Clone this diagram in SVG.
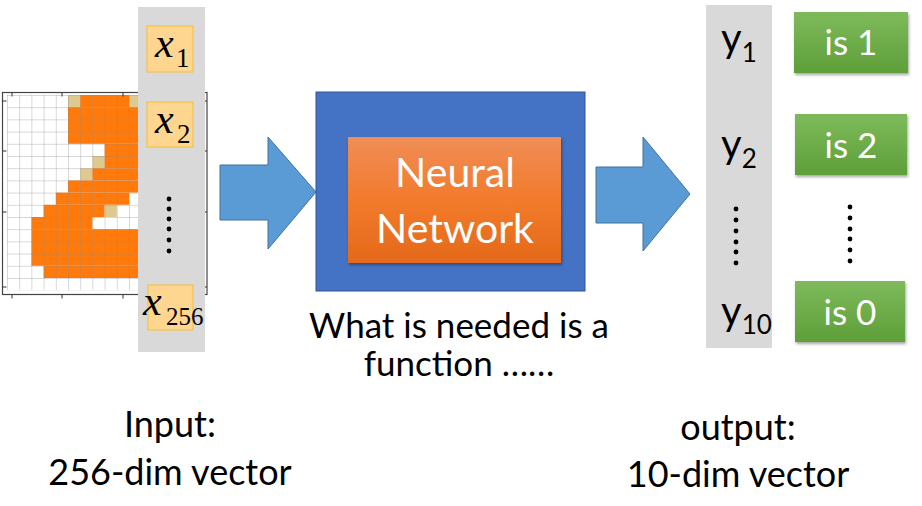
<svg xmlns="http://www.w3.org/2000/svg" width="922" height="506" viewBox="0 0 922 506">
<defs>
<style>
.txt{font-family:Lato,"Liberation Sans",sans-serif;fill:#000;}
.wt{font-family:Lato,"Liberation Sans",sans-serif;fill:#fff;}
.or{fill:#FF7A0A;}
.tan{fill:#DEC98E;}
.gl{stroke:#8a8a8a;stroke-width:0.8;stroke-opacity:0.8;}
.tick{stroke:#333;stroke-width:1;}
.xbox{fill:#FFD68F;stroke:#F5BE3A;stroke-width:1;}
.xv{font-family:"Liberation Serif",serif;font-style:italic;fill:#000;}
.sub{font-family:"Liberation Serif",serif;fill:#000;}
.dot{fill:#000;}
.green{fill:url(#gg);filter:url(#sh);}
.arrow{fill:#5B9BD5;stroke:#41719C;stroke-width:1;}
</style>
<linearGradient id="gg" x1="0" y1="0" x2="0" y2="1">
<stop offset="0" stop-color="#7EBA5B"/>
<stop offset="1" stop-color="#5E9F39"/>
</linearGradient>
<linearGradient id="og" x1="0" y1="0" x2="0" y2="1">
<stop offset="0" stop-color="#F08D57"/>
<stop offset="0.5" stop-color="#F27B2C"/>
<stop offset="1" stop-color="#E4691A"/>
</linearGradient>
<filter id="sh" x="-10%" y="-10%" width="120%" height="130%">
<feDropShadow dx="1" dy="2" stdDeviation="1.5" flood-color="#000" flood-opacity="0.35"/>
</filter>
<pattern id="grid" x="7" y="95" width="12.2" height="12.2" patternUnits="userSpaceOnUse">
<path d="M0 0H12.2M0 0V12.2" class="gl" fill="none"/>
</pattern>
</defs>
<rect width="922" height="506" fill="#fff"/>

<g id="input-image">
<rect x="7" y="95" width="200" height="195" fill="#fff"/>
<rect class="tan" x="68" y="95" width="12.2" height="12.2"/>
<rect class="or" x="80.2" y="95" width="48.8" height="12.2"/>
<rect class="tan" x="129" y="95" width="12.2" height="12.2"/>
<rect class="or" x="68" y="107.2" width="73.2" height="36.6"/>
<rect class="or" x="104.6" y="143.8" width="36.6" height="12.2"/>
<rect class="tan" x="92.4" y="156" width="12.2" height="12.2"/>
<rect class="or" x="104.6" y="156" width="36.6" height="12.2"/>
<rect class="tan" x="80.2" y="168.2" width="12.2" height="12.2"/>
<rect class="or" x="92.4" y="168.2" width="48.8" height="12.2"/>
<rect class="or" x="68" y="180.4" width="73.2" height="12.2"/>
<rect class="or" x="55.8" y="192.6" width="73.2" height="12.2"/>
<rect class="or" x="43.6" y="204.8" width="61" height="12.2"/>
<rect class="tan" x="104.6" y="204.8" width="12.2" height="12.2"/>
<rect class="or" x="31.4" y="217" width="61" height="12.2"/>
<rect class="or" x="31.4" y="229.2" width="109.8" height="36.6"/>
<rect class="or" x="43.6" y="265.8" width="97.6" height="12.2"/>
<rect x="7" y="95" width="195.2" height="195.2" fill="url(#grid)"/>
<rect x="2.5" y="92.5" width="204.5" height="202" fill="none" stroke="#444" stroke-width="1.2"/>
<path class="tick" d="M12 92.5v4M62 92.5v4M123 92.5v4M12 294.5v4M62 294.5v4M123 294.5v4M2.5 101h4M2.5 151h4M2.5 212h4M2.5 287h4M207 101h-4M207 151h-4M207 212h-4M207 287h-4"/>
</g>

<g id="input-vector">
<rect x="138" y="7" width="67" height="345" fill="#D9D9D9"/>
<g id="x1">
<rect class="xbox" x="147" y="26" width="46" height="46"/>
<text class="xv" x="155" y="57" font-size="42">x</text>
<text class="sub" x="176" y="67" font-size="27">1</text>
</g>
<g id="x2">
<rect class="xbox" x="147" y="102" width="46" height="45"/>
<text class="xv" x="155" y="133" font-size="42">x</text>
<text class="sub" x="177" y="143" font-size="27">2</text>
</g>
<g id="x-dots">
<circle class="dot" cx="169" cy="199" r="2.4"/>
<circle class="dot" cx="169" cy="209" r="2.4"/>
<circle class="dot" cx="169" cy="219" r="2.4"/>
<circle class="dot" cx="169" cy="229" r="2.4"/>
<circle class="dot" cx="169" cy="240" r="2.4"/>
<circle class="dot" cx="169" cy="251" r="2.4"/>
</g>
<g id="x256">
<rect class="xbox" x="148" y="285" width="45" height="45"/>
<text class="xv" x="143" y="315" font-size="42">x</text>
<text class="sub" x="166" y="325" font-size="25">256</text>
</g>
</g>

<g id="connectors">
<path id="arrow-in" class="arrow" d="M220 165H268V137L316 192L268 249V220H220Z"/>
<path id="arrow-out" class="arrow" d="M596 167H643V137L690 194L643 251V223H596Z"/>
</g>

<g id="neural-network">
<rect x="316" y="92" width="269" height="199" fill="#4472C4" stroke="#2F5597" stroke-width="1"/>
<rect x="348" y="137" width="213" height="126" fill="url(#og)" filter="url(#sh)"/>
<text class="wt" x="455" y="187" font-size="41" text-anchor="middle">Neural</text>
<text class="wt" x="455" y="243" font-size="41" text-anchor="middle">Network</text>
</g>

<g id="function-label">
<text class="txt" x="459" y="338" font-size="35" text-anchor="middle">What is needed is a</text>
<text class="txt" x="459" y="376" font-size="35" text-anchor="middle">function ……</text>
</g>

<g id="output-vector">
<rect x="706" y="5" width="66" height="343" fill="#D9D9D9"/>
<text class="txt" x="721" y="52" font-size="40">y<tspan font-size="26" dy="10">1</tspan></text>
<text class="txt" x="721" y="158" font-size="40">y<tspan font-size="26" dy="10">2</tspan></text>
<g id="y-dots">
<circle class="dot" cx="736" cy="209" r="2.4"/>
<circle class="dot" cx="736" cy="220" r="2.4"/>
<circle class="dot" cx="736" cy="231" r="2.4"/>
<circle class="dot" cx="736" cy="242" r="2.4"/>
<circle class="dot" cx="736" cy="252" r="2.4"/>
<circle class="dot" cx="736" cy="263" r="2.4"/>
</g>
<text class="txt" x="721" y="325" font-size="40">y<tspan font-size="26" dy="9">10</tspan></text>
</g>

<g id="class-is1">
<rect class="green" x="794" y="12" width="114" height="61"/>
<text class="wt" x="851" y="55" font-size="35" text-anchor="middle">is 1</text>
</g>
<g id="class-is2">
<rect class="green" x="795" y="114" width="112" height="61"/>
<text class="wt" x="851" y="158" font-size="35" text-anchor="middle">is 2</text>
</g>
<g id="class-dots">
<circle class="dot" cx="850" cy="207" r="2.4"/>
<circle class="dot" cx="850" cy="218" r="2.4"/>
<circle class="dot" cx="850" cy="229" r="2.4"/>
<circle class="dot" cx="850" cy="239" r="2.4"/>
<circle class="dot" cx="850" cy="250" r="2.4"/>
<circle class="dot" cx="850" cy="261" r="2.4"/>
</g>
<g id="class-is0">
<rect class="green" x="795" y="281" width="110" height="61"/>
<text class="wt" x="850" y="325" font-size="35" text-anchor="middle">is 0</text>
</g>

<g id="input-label">
<text class="txt" x="170" y="437" font-size="36" text-anchor="middle">Input:</text>
<text class="txt" x="170" y="485" font-size="36" text-anchor="middle">256-dim vector</text>
</g>
<g id="output-label">
<text class="txt" x="738" y="440" font-size="36" text-anchor="middle">output:</text>
<text class="txt" x="738" y="487" font-size="36" text-anchor="middle">10-dim vector</text>
</g>
</svg>
